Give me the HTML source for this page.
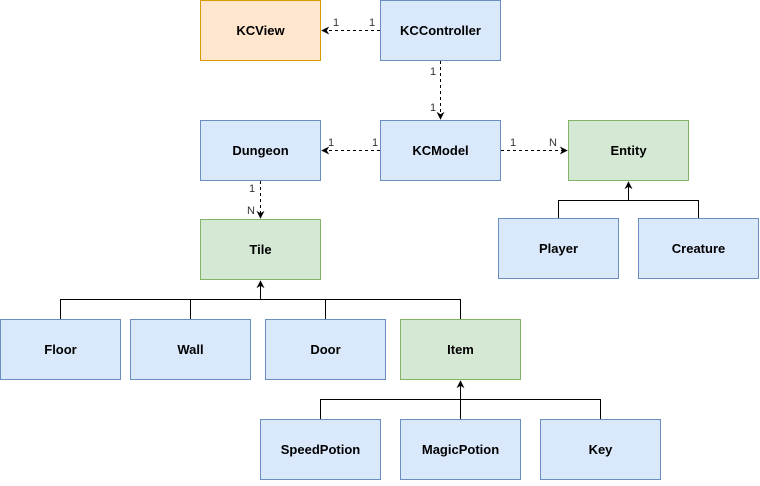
<!DOCTYPE html>
<html><head><style>html,body{margin:0;padding:0;background:#fff}</style></head><body>
<svg width="760" height="481" xmlns="http://www.w3.org/2000/svg" font-family="Liberation Sans, sans-serif">
<defs>
<marker id="a" viewBox="0 0 10 10" refX="9" refY="5" markerWidth="8" markerHeight="8" orient="auto" markerUnits="userSpaceOnUse"><path d="M0,0 L10,5 L0,10 L3,5 Z" fill="#000"/></marker>
</defs>
<g font-size="13" font-weight="bold" text-anchor="middle" fill="#000">
<rect x="200.5" y="0.5" width="120" height="60" fill="#ffe6cc" stroke="#d79b00"/><text x="260.5" y="35">KCView</text>
<rect x="380.5" y="0.5" width="120" height="60" fill="#dae8fc" stroke="#6c8ebf"/><text x="440.5" y="35">KCController</text>
<rect x="200.5" y="120.5" width="120" height="60" fill="#dae8fc" stroke="#6c8ebf"/><text x="260.5" y="155">Dungeon</text>
<rect x="380.5" y="120.5" width="120" height="60" fill="#dae8fc" stroke="#6c8ebf"/><text x="440.5" y="155">KCModel</text>
<rect x="568.5" y="120.5" width="120" height="60" fill="#d5e8d4" stroke="#82b366"/><text x="628.5" y="155">Entity</text>
<rect x="200.5" y="219.5" width="120" height="60" fill="#d5e8d4" stroke="#82b366"/><text x="260.5" y="254">Tile</text>
<rect x="498.5" y="218.5" width="120" height="60" fill="#dae8fc" stroke="#6c8ebf"/><text x="558.5" y="253">Player</text>
<rect x="638.5" y="218.5" width="120" height="60" fill="#dae8fc" stroke="#6c8ebf"/><text x="698.5" y="253">Creature</text>
<rect x="0.5" y="319.5" width="120" height="60" fill="#dae8fc" stroke="#6c8ebf"/><text x="60.5" y="354">Floor</text>
<rect x="130.5" y="319.5" width="120" height="60" fill="#dae8fc" stroke="#6c8ebf"/><text x="190.5" y="354">Wall</text>
<rect x="265.5" y="319.5" width="120" height="60" fill="#dae8fc" stroke="#6c8ebf"/><text x="325.5" y="354">Door</text>
<rect x="400.5" y="319.5" width="120" height="60" fill="#d5e8d4" stroke="#82b366"/><text x="460.5" y="354">Item</text>
<rect x="260.5" y="419.5" width="120" height="60" fill="#dae8fc" stroke="#6c8ebf"/><text x="320.5" y="454">SpeedPotion</text>
<rect x="400.5" y="419.5" width="120" height="60" fill="#dae8fc" stroke="#6c8ebf"/><text x="460.5" y="454">MagicPotion</text>
<rect x="540.5" y="419.5" width="120" height="60" fill="#dae8fc" stroke="#6c8ebf"/><text x="600.5" y="454">Key</text>
</g>
<g stroke="#000" fill="none" stroke-dasharray="3,3">
<line x1="380" y1="30.5" x2="322" y2="30.5" marker-end="url(#a)"/>
<line x1="440.5" y1="61" x2="440.5" y2="119" marker-end="url(#a)"/>
<line x1="380" y1="150.5" x2="322" y2="150.5" marker-end="url(#a)"/>
<line x1="501" y1="150.5" x2="567" y2="150.5" marker-end="url(#a)"/>
<line x1="260.5" y1="181" x2="260.5" y2="218" marker-end="url(#a)"/>
</g>
<g stroke="#000" fill="none">
<path d="M60.5 319V299.5H460.5V319 M190.5 319V299.5 M325.5 319V299.5"/>
<line x1="260.5" y1="299.5" x2="260.5" y2="281" marker-end="url(#a)"/>
<path d="M320.5 419V399.5H600.5V419"/>
<line x1="460.5" y1="419" x2="460.5" y2="381" marker-end="url(#a)"/>
<path d="M558.5 218V200.5H698.5V218"/>
<line x1="628.5" y1="200.5" x2="628.5" y2="182" marker-end="url(#a)"/>
</g>
<g font-size="11" fill="#333">
<text x="333" y="26">1</text><text x="369" y="26">1</text>
<text x="430" y="75">1</text><text x="430" y="111">1</text>
<text x="328" y="146">1</text><text x="372" y="146">1</text>
<text x="510" y="146">1</text><text x="549" y="146">N</text>
<text x="249" y="192">1</text><text x="247" y="214">N</text>
</g>
</svg>
</body></html>
